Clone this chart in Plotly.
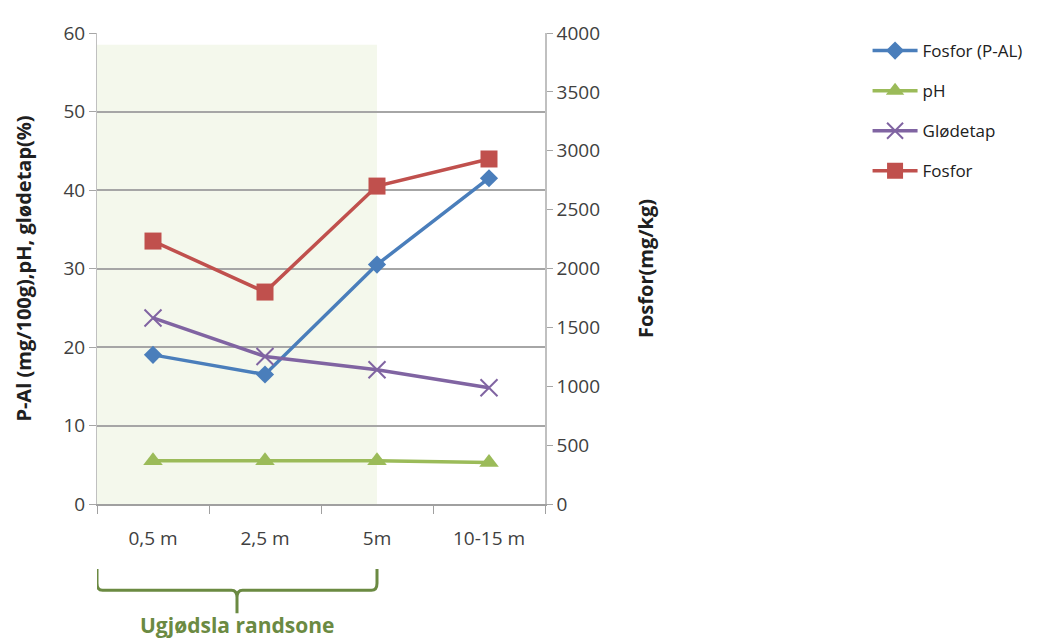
import plotly.graph_objects as go

categories = ["0,5 m", "2,5 m", "5m", "10-15 m"]
p_al = [19.0, 16.5, 30.5, 41.5]
ph = [5.5, 5.5, 5.5, 5.3]
glodetap = [23.7, 18.8, 17.1, 14.8]
fosfor = [2233, 1800, 2700, 2930]

FONT = "Open Sans"
TICKC = "#404040"

fig = go.Figure()
fig.add_trace(go.Scatter(x=categories, y=p_al, name="Fosfor (P-AL)", mode="lines+markers",
                         line=dict(color="#4a7ebb", width=3.5),
                         marker=dict(symbol="diamond", size=14, color="#4a7ebb"),
                         legendgroup="a"))
fig.add_trace(go.Scatter(x=categories, y=ph, name="pH", mode="lines+markers",
                         line=dict(color="#9bbb59", width=3.5),
                         marker=dict(symbol="triangle-up", size=17, color="#9bbb59"),
                         legendgroup="b"))
fig.add_trace(go.Scatter(x=categories, y=glodetap, name="Glødetap", mode="lines+markers",
                         line=dict(color="#8064a2", width=3.5),
                         marker=dict(symbol="x-thin", size=17, line=dict(color="#8064a2", width=2)),
                         legendgroup="c"))
fig.add_trace(go.Scatter(x=categories, y=fosfor, name="Fosfor", mode="lines+markers",
                         line=dict(color="#c0504d", width=3.5),
                         marker=dict(symbol="square", size=17, color="#c0504d"),
                         yaxis="y2", legendgroup="d"))

# shaded unfertilised zone
fig.add_shape(type="rect", xref="x", yref="y", x0=-0.5, x1=2, y0=0, y1=58.5,
              fillcolor="#f4f8ec", line=dict(width=0), layer="below")

# bracket
yt, ym, yb = -0.138, -0.183, -0.232
path = (f"M -0.5,{yt} L -0.5,{ym+0.015} Q -0.5,{ym} -0.45,{ym} "
        f"L 0.7,{ym} Q 0.75,{ym} 0.75,{ym-0.015} L 0.75,{yb} "
        f"M 0.75,{ym-0.015} Q 0.75,{ym} 0.8,{ym} L 1.95,{ym} Q 2,{ym} 2,{ym+0.015} L 2,{yt}")
fig.add_shape(type="path", xref="x", yref="paper", path=path,
              line=dict(color="#6b8a42", width=3))
fig.add_annotation(x=0.75, y=-0.256, xref="x", yref="paper", text="<b>Ugjødsla randsone</b>",
                   showarrow=False, font=dict(family=FONT, size=21, color="#6b8a42"),
                   yanchor="middle")

fig.update_layout(
    width=1052, height=643,
    margin=dict(l=89, r=515, t=18, b=147),
    paper_bgcolor="white", plot_bgcolor="white",
    font=dict(family=FONT, color=TICKC),
    xaxis=dict(type="category", tickson="boundaries", ticks="outside", ticklen=8,
               tickcolor="#a0a0a0", showline=True, linecolor="#a0a0a0", linewidth=1.5,
               showgrid=False, tickfont=dict(size=19, color=TICKC), range=[-0.5, 3.5],
               ticklabelstandoff=16),
    yaxis=dict(range=[0, 60], dtick=10, showgrid=True, gridcolor="#a6a6a6", gridwidth=1.5,
               showline=True, linecolor="#c0c0c0", ticks="outside", ticklen=7,
               tickcolor="#a6a6a6", zeroline=False,
               tickfont=dict(size=19, color=TICKC),
               title=dict(text="<b>P-Al (mg/100g),pH, glødetap(%)</b>",
                          font=dict(size=20, color="#202020"), standoff=26)),
    yaxis2=dict(range=[0, 4000], dtick=500, overlaying="y", side="right", showgrid=False,
                showline=True, linecolor="#c0c0c0", linewidth=1.5, ticks="outside", ticklen=6,
                tickcolor="#a6a6a6", zeroline=False,
                tickfont=dict(size=19, color=TICKC),
                title=dict(text="<b>Fosfor(mg/kg)</b>", font=dict(size=20, color="#202020"),
                           standoff=40)),
    legend=dict(x=1.72, y=1.0, xanchor="left", yanchor="top", itemwidth=45,
                font=dict(size=17, color="#202020"), tracegroupgap=15,
                bgcolor="rgba(0,0,0,0)"),
)

fig.write_html("out.html")
